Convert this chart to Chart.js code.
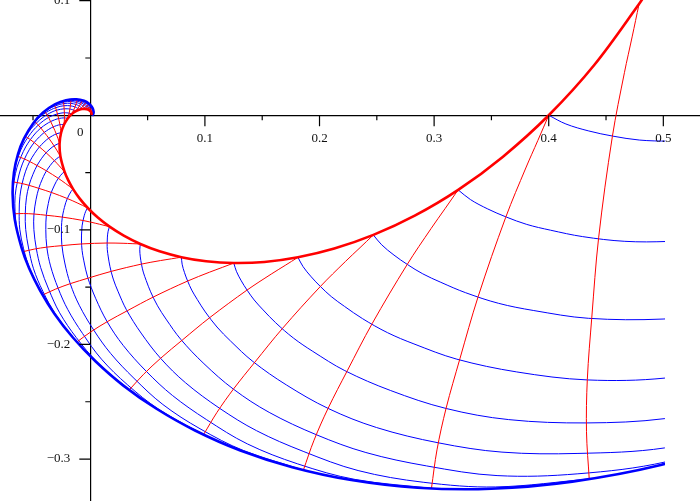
<!DOCTYPE html>
<html>
<head>
<meta charset="utf-8">
<script src="https://cdn.jsdelivr.net/npm/chart.js@4.4.1/dist/chart.umd.min.js"></script>
<style>
  body { margin: 0; background: #fff; }
  #wrap { width: 700px; height: 501px; }
</style>
</head>
<body>
<div id="wrap"><canvas id="spiralChart" width="700" height="501"></canvas></div>
<script>
// Inner (red) spiral
const redSpiral = [
  [0.4865, 0.1088], [0.4788, 0.0971], [0.4399, 0.0441], [0.4000, 0.0000],
  [0.3601, -0.0361], [0.3210, -0.0651], [0.2831, -0.0876], [0.2470, -0.1044],
  [0.2129, -0.1163], [0.1812, -0.1239], [0.1519, -0.1280], [0.1252, -0.1289],
  [0.1011, -0.1274], [0.0795, -0.1238], [0.0604, -0.1187], [0.0437, -0.1123],
  [0.0292, -0.1050], [0.0168, -0.0972], [0.0063, -0.0890], [-0.0024, -0.0807],
  [-0.0094, -0.0725], [-0.0150, -0.0644], [-0.0193, -0.0566], [-0.0225, -0.0492],
  [-0.0261, -0.0358], [-0.0268, -0.0245], [-0.0255, -0.0153], [-0.0229, -0.0081],
  [-0.0197, -0.0028], [-0.0163, 0.0010], [-0.0129, 0.0034], [-0.0098, 0.0048],
  [-0.0071, 0.0055], [-0.0048, 0.0056], [-0.0029, 0.0052], [-0.0015, 0.0047],
  [-0.0005, 0.0040], [0.0003, 0.0033], [0.0010, 0.0020], [0.0011, 0.0009],
  [0.0010, 0.0003]
];

// Outer (blue) spiral
const blueSpiral = [
  [0.6700, -0.2446], [0.5810, -0.2807], [0.4977, -0.3052], [0.4206, -0.3197],
  [0.3498, -0.3259], [0.2855, -0.3250], [0.2277, -0.3183], [0.1762, -0.3071],
  [0.1309, -0.2925], [0.0914, -0.2751], [0.0574, -0.2559], [0.0286, -0.2357],
  [0.0045, -0.2147], [-0.0154, -0.1937], [-0.0313, -0.1731], [-0.0438, -0.1529],
  [-0.0533, -0.1338], [-0.0600, -0.1155], [-0.0660, -0.0906], [-0.0678, -0.0687],
  [-0.0666, -0.0497], [-0.0631, -0.0338], [-0.0580, -0.0206], [-0.0499, -0.0071],
  [-0.0412, 0.0024], [-0.0306, 0.0097], [-0.0212, 0.0132], [-0.0121, 0.0140],
  [-0.0055, 0.0126], [-0.0011, 0.0101], [0.0019, 0.0065], [0.0029, 0.0029],
  [0.0024, 0.0007], [0.0015, -0.0003]
];

// Grid nodes on the red spiral, where the thin lines start
const gridNodes = [
  [0.47882, 0.09706], [0.40000, 0.00000], [0.32096, -0.06506], [0.24696, -0.10441],
  [0.18118, -0.12395], [0.12522, -0.12893], [0.07950, -0.12382], [0.04366, -0.11229],
  [0.01677, -0.09720], [-0.00236, -0.08072], [-0.01502, -0.06439], [-0.02253, -0.04922],
  [-0.02608, -0.03583], [-0.02676, -0.02451], [-0.02546, -0.01532], [-0.02292, -0.00815],
  [-0.01972, -0.00281], [-0.01627, 0.00095], [-0.01291, 0.00341], [-0.00980, 0.00484],
  [-0.00708, 0.00548], [-0.00479, 0.00555], [-0.00294, 0.00523], [-0.00151, 0.00467],
  [-0.00045, 0.00400], [0.00029, 0.00328]
];

// Thin blue line that leaves the node (0.4, 0)
const blueLine = [
  [0.400, 0.0000], [0.415, -0.0076], [0.435, -0.0137], [0.456, -0.0182],
  [0.479, -0.0216], [0.505, -0.0226], [0.540, -0.0225], [0.585, -0.0185],
  [0.630, -0.0095], [0.700, 0.0090], [0.790, 0.0460], [0.890, 0.0990],
  [0.990, 0.1710], [1.100, 0.2750], [1.200, 0.3900], [1.300, 0.5400],
  [1.400, 0.7200], [1.480, 0.9400], [1.540, 1.1900], [1.569, 1.5280]
];

// Thin red line that leaves the node (0.4, 0)
const redLine = [
  [0.4000, 0.0000], [0.3905, -0.0220], [0.3800, -0.0460], [0.3625, -0.0890],
  [0.3385, -0.1580], [0.3225, -0.2125], [0.3105, -0.2555], [0.3025, -0.2920],
  [0.2977, -0.3255]
];

const xTicksMajor = [0.1, 0.2, 0.3, 0.4, 0.5];
const xTickLabels = ['0.1', '0.2', '0.3', '0.4', '0.5'];
const xTicksMinor = [-0.05, 0.05, 0.15, 0.25, 0.35, 0.45];
const yTicksMajor = [0.1, -0.1, -0.2, -0.3];
const yTickLabels = ['0.1', '\u22120.1', '\u22120.2', '\u22120.3'];
const yTicksMinor = [0.05, -0.05, -0.15, -0.25];

const toPoints = arr => arr.map(([x, y]) => ({ x, y }));

// the same line shape drawn from every node: scaled and turned like the node
function placeAt(node, shape) {
  const [sx, sy] = shape[0];
  const d = sx * sx + sy * sy;
  const a = (node[0] * sx + node[1] * sy) / d;
  const b = (node[1] * sx - node[0] * sy) / d;
  return shape.map(([u, v]) => ({ x: a * u - b * v, y: a * v + b * u }));
}

const clipRight = { left: 0, top: 0, right: -35, bottom: 0 };

const datasets = [
  { data: toPoints(redSpiral), borderColor: '#ff0000', borderWidth: 2.6 },
  { data: toPoints(blueSpiral), borderColor: '#0000ff', borderWidth: 2.6 }
];
gridNodes.forEach((node, i) => {
  datasets.push({ data: placeAt(node, redLine), borderColor: '#ff0000', borderWidth: 1 });
});
gridNodes.slice(1).forEach(node => {
  datasets.push({ data: placeAt(node, blueLine), borderColor: '#0000ff', borderWidth: 1 });
});
datasets.forEach(ds => {
  ds.showLine = true;
  ds.pointRadius = 0;
  ds.tension = 0.35;
  ds.fill = false;
  ds.clip = clipRight;
});

const axisMarks = {
  id: 'axisMarks',
  afterDraw(chart) {
    const { ctx, scales: { x, y } } = chart;
    const x0 = x.getPixelForValue(0);
    const y0 = y.getPixelForValue(0);
    ctx.save();
    ctx.strokeStyle = '#000';
    ctx.lineWidth = 1.2;
    ctx.beginPath();
    xTicksMajor.forEach(v => { const p = x.getPixelForValue(v); ctx.moveTo(p, y0); ctx.lineTo(p, y0 + 11); });
    xTicksMinor.forEach(v => { const p = x.getPixelForValue(v); ctx.moveTo(p, y0); ctx.lineTo(p, y0 + 5); });
    yTicksMajor.forEach(v => { const p = y.getPixelForValue(v); ctx.moveTo(x0, p); ctx.lineTo(x0 - 11, p); });
    yTicksMinor.forEach(v => { const p = y.getPixelForValue(v); ctx.moveTo(x0, p); ctx.lineTo(x0 - 5, p); });
    ctx.stroke();

    ctx.fillStyle = '#111';
    ctx.font = '13px "Liberation Serif", "DejaVu Serif", serif';
    ctx.textBaseline = 'middle';
    ctx.textAlign = 'center';
    xTicksMajor.forEach((v, i) => ctx.fillText(xTickLabels[i], x.getPixelForValue(v), y0 + 23));
    ctx.fillText('0', x0 - 10, y0 + 17);
    ctx.textAlign = 'right';
    yTicksMajor.forEach((v, i) => ctx.fillText(yTickLabels[i], x0 - 20, y.getPixelForValue(v)));
    ctx.restore();
  }
};

new Chart(document.getElementById('spiralChart'), {
  type: 'scatter',
  data: { datasets },
  options: {
    responsive: false,
    animation: false,
    layout: { padding: 0 },
    plugins: { legend: { display: false }, tooltip: { enabled: false } },
    scales: {
      x: {
        type: 'linear', min: -0.0788, max: 0.532, position: { y: 0 },
        grid: { display: false }, ticks: { display: false },
        border: { display: true, color: '#000', width: 1.2 }
      },
      y: {
        type: 'linear', min: -0.3366, max: 0.1006, position: { x: 0 },
        grid: { display: false }, ticks: { display: false },
        border: { display: true, color: '#000', width: 1.2 }
      }
    }
  },
  plugins: [axisMarks]
});
</script>
</body>
</html>
